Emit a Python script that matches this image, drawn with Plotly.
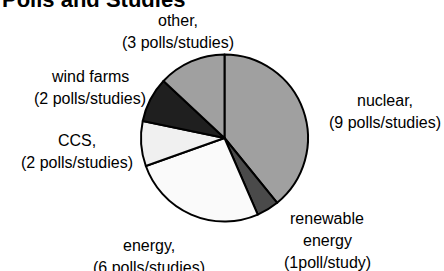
import plotly.graph_objects as go

# ---- data ----
categories = ["nuclear", "renewable energy", "energy", "CCS", "wind farms", "other"]
counts = [9, 1, 6, 2, 2, 3]
label_lines = [
    ["nuclear,", "(9 polls/studies)"],
    ["renewable", "energy", "(1poll/study)"],
    ["energy,", "(6 polls/studies)"],
    ["CCS,", "(2 polls/studies)"],
    ["wind farms", "(2 polls/studies)"],
    ["other,", "(3 polls/studies)"],
]
title_text = "Polls and Studies"

# ---- styling / layout ----
W, H = 444, 271
colors = ["#a0a0a0", "#4a4a4a", "#fafafa", "#f0f0f0", "#1f1f1f", "#a0a0a0"]
# label anchor (pixel centre of first line), line spacing
label_pos = [(385, 100), (327, 218), (149, 245), (77, 140), (90, 77), (178, 20)]
line_gap = 22

cx, cy, r = 224.5, 138, 83.5

fig = go.Figure(go.Pie(
    labels=categories,
    values=counts,
    sort=False,
    direction="clockwise",
    rotation=0,
    marker=dict(colors=colors, line=dict(color="#000000", width=2)),
    textinfo="none",
    hoverinfo="skip",
    showlegend=False,
    domain=dict(x=[(cx - r) / W, (cx + r) / W], y=[1 - (cy + r) / H, 1 - (cy - r) / H]),
))

annotations = []
for lines, (px, py) in zip(label_lines, label_pos):
    for i, t in enumerate(lines):
        annotations.append(dict(
            text=t, x=px / W, y=1 - (py + i * line_gap) / H,
            xref="paper", yref="paper", xanchor="center", yanchor="middle",
            showarrow=False,
            font=dict(family="Liberation Sans, Arial, sans-serif", size=16, color="#000000"),
        ))

annotations.append(dict(
    text="<b>" + title_text + "</b>", x=0, y=1 - 6.5 / H,
    xref="paper", yref="paper", xanchor="left", yanchor="bottom", yshift=-8,
    showarrow=False,
    font=dict(family="Liberation Sans, Arial, sans-serif", size=22, color="#000000"),
))

fig.update_layout(
    width=W, height=H,
    margin=dict(l=0, r=0, t=0, b=0),
    paper_bgcolor="#ffffff",
    plot_bgcolor="#ffffff",
    annotations=annotations,
)

fig.write_html(
    "out.html",
    config=dict(displayModeBar=False, staticPlot=True),
    post_script="document.body.style.margin='0';document.body.style.overflow='hidden';",
)
